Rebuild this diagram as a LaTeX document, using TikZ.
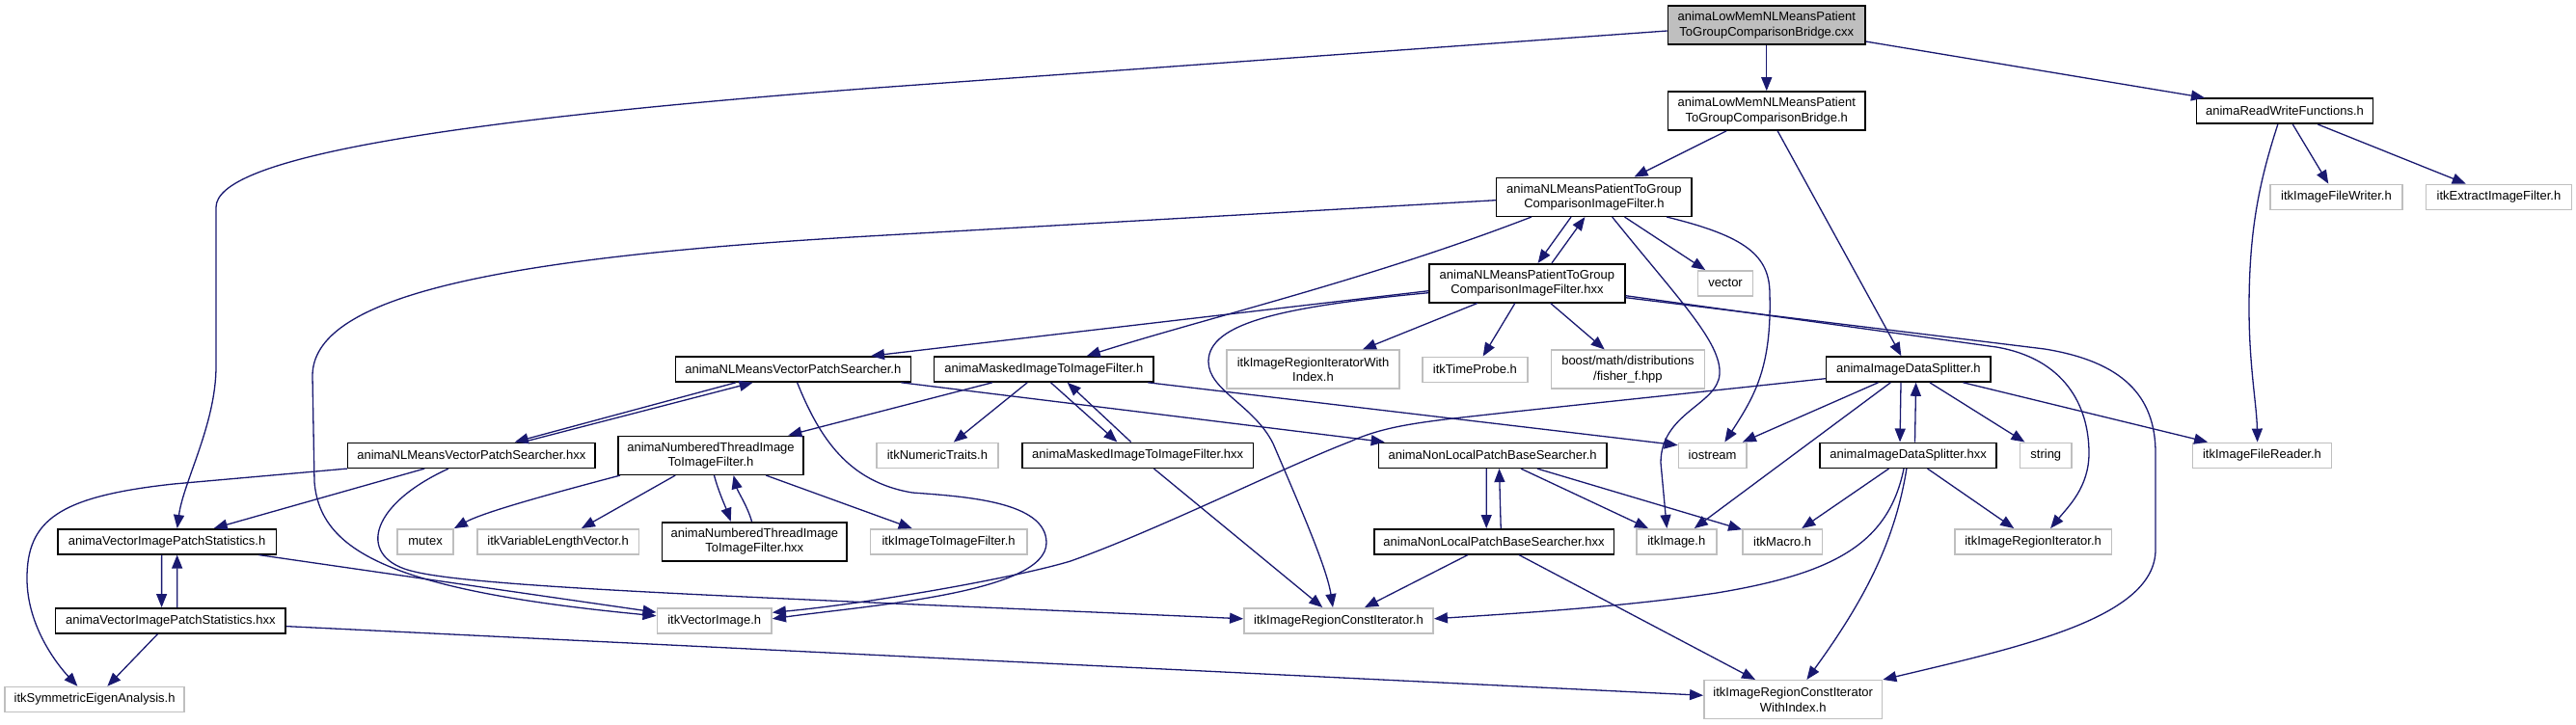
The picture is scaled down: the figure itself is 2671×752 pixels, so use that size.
\documentclass[tikz,border=0pt]{standalone}
\usepackage{fontspec}
\newfontfamily\lblfont{Liberation Sans}
\usetikzlibrary{arrows.meta}
\definecolor{edgec}{HTML}{191970}
\definecolor{extc}{HTML}{BFBFBF}
\definecolor{rootc}{HTML}{BFBFBF}
\tikzset{
  dbox/.style={draw=black, line width=1.6pt, fill=white, inner sep=0pt, align=center,
               font=\lblfont\fontsize{13}{15.3}\selectfont},
  ebox/.style={dbox, draw=extc, line width=1.5pt},
  rbox/.style={dbox, fill=rootc},
  sz/.style 2 args={minimum width=#1pt, minimum height=#2pt},
  dep/.style={draw=edgec, line width=1.3pt, -{Triangle[length=14pt,width=11pt]}},
}
\begin{document}
\begin{tikzpicture}[x=1pt,y=-1pt]
\useasboundingbox (0,0) rectangle (2671,752);
% nodes
\node[rbox, sz={204.5}{40}] (root) at (1831.75,26) {animaLowMemNLMeansPatient\\ToGroupComparisonBridge.cxx};
\node[dbox, sz={204.5}{40}] (bridge) at (1831.75,115) {animaLowMemNLMeansPatient\\ToGroupComparisonBridge.h};
\node[dbox, sz={202.6}{40}] (ptgh) at (1652.9,204.3) {animaNLMeansPatientToGroup\\ComparisonImageFilter.h};
\node[dbox, sz={202.7}{40}] (ptghxx) at (1583.4,293.7) {animaNLMeansPatientToGroup\\ComparisonImageFilter.hxx};
\node[dbox, sz={183.3}{26}] (rw) at (2369,115.2) {animaReadWriteFunctions.h};
\node[ebox, sz={137.4}{26}] (writer) at (2422.5,204.3) {itkImageFileWriter.h};
\node[ebox, sz={151.1}{26}] (extract) at (2590.9,204.3) {itkExtractImageFilter.h};
\node[ebox, sz={57.2}{26}] (vector) at (1789.1,293.8) {vector};
\node[dbox, sz={244}{26}] (vpsh) at (822.3,383) {animaNLMeansVectorPatchSearcher.h};
\node[dbox, sz={227.9}{26}] (maskh) at (1082.3,383) {animaMaskedImageToImageFilter.h};
\node[ebox, sz={179}{40}] (iterwi) at (1361.5,383.2) {itkImageRegionIteratorWith\\Index.h};
\node[ebox, sz={108.7}{26}] (timeprobe) at (1529.4,383.3) {itkTimeProbe.h};
\node[ebox, sz={159}{40}] (boost) at (1687.9,383.2) {boost/math/distributions\\/fisher\_f.hpp};
\node[dbox, sz={170.7}{26}] (dsh) at (1978.9,383) {animaImageDataSplitter.h};
\node[dbox, sz={256.5}{26}] (vpshxx) at (488.8,472.3) {animaNLMeansVectorPatchSearcher.hxx};
\node[dbox, sz={191.8}{40}] (nth) at (737,472.3) {animaNumberedThreadImage\\ToImageFilter.h};
\node[ebox, sz={126.3}{26}] (numtraits) at (971.9,472.3) {itkNumericTraits.h};
\node[dbox, sz={239.9}{26}] (maskhxx) at (1179.7,472.3) {animaMaskedImageToImageFilter.hxx};
\node[dbox, sz={236.5}{26}] (nlpbsh) at (1547.6,472.3) {animaNonLocalPatchBaseSearcher.h};
\node[ebox, sz={70.4}{26}] (iostream) at (1775.6,472.3) {iostream};
\node[dbox, sz={182.8}{26}] (dshxx) at (1978.6,472.3) {animaImageDataSplitter.hxx};
\node[ebox, sz={53.4}{26}] (string) at (2121.3,472.3) {string};
\node[ebox, sz={144.3}{26}] (reader) at (2345.5,472.3) {itkImageFileReader.h};
\node[dbox, sz={226.7}{26}] (vpsth) at (173.05,561.8) {animaVectorImagePatchStatistics.h};
\node[ebox, sz={58}{26}] (mutex) at (441.1,561.8) {mutex};
\node[ebox, sz={167.6}{26}] (varlen) at (578.6,561.8) {itkVariableLengthVector.h};
\node[dbox, sz={191.7}{40}] (nthxx) at (782.3,561.7) {animaNumberedThreadImage\\ToImageFilter.hxx};
\node[ebox, sz={162.4}{26}] (i2i) at (983.6,561.8) {itkImageToImageFilter.h};
\node[dbox, sz={248.6}{26}] (nlpbshxx) at (1549,561.8) {animaNonLocalPatchBaseSearcher.hxx};
\node[ebox, sz={83.1}{26}] (itkimage) at (1738.3,561.8) {itkImage.h};
\node[ebox, sz={82.7}{26}] (macro) at (1848.2,561.8) {itkMacro.h};
\node[ebox, sz={162.6}{26}] (regiter) at (2108.1,561.8) {itkImageRegionIterator.h};
\node[dbox, sz={238.8}{26}] (vpsthxx) at (176.8,643.8) {animaVectorImagePatchStatistics.hxx};
\node[ebox, sz={118.9}{26}] (vecimg) at (740.7,643.8) {itkVectorImage.h};
\node[ebox, sz={196.3}{26}] (constiter) at (1388,643.8) {itkImageRegionConstIterator.h};
\node[ebox, sz={185.9}{26}] (eigen) at (98.1,725.5) {itkSymmetricEigenAnalysis.h};
\node[ebox, sz={184.8}{40}] (constiterwi) at (1859.2,725.7) {itkImageRegionConstIterator\\WithIndex.h};
% root
\draw[dep] (root) -- (bridge);
\draw[dep] (root) -- (rw);
\draw[dep] ([yshift=-6pt]root.west) -- (900,91.7) .. controls (450,126) and (224,165) .. (224,215) -- (224,380) .. controls (224,440) and (190,500) .. ([xshift=10.7pt]vpsth.north);
% bridge
\draw[dep] (bridge) -- (ptgh);
\draw[dep] (bridge) -- (dsh);
% read/write
\draw[dep] (rw) -- (writer);
\draw[dep] (rw) -- (extract);
\draw[dep] ([xshift=-7.2pt]rw.south) .. controls (2342,190) and (2332,240) .. (2332,320) .. controls (2332,380) and (2340,420) .. ([xshift=-4.9pt]reader.north);
% patient-to-group filter .h
\draw[dep] ([yshift=-3.4pt]ptgh.west) -- (900,245) .. controls (500,268) and (324,310) .. (324,390) -- (326,500) .. controls (332,570) and (400,612) .. ([yshift=5pt]vecimg.west);
\draw[dep] ([xshift=-65.2pt]ptgh.south) .. controls (1420,290) and (1250,330) .. ([xshift=44.5pt]maskh.north);
\draw[dep] ([xshift=-23.9pt]ptgh.south) -- ([xshift=11.2pt]ptghxx.north);
\draw[dep] ([xshift=25.6pt]ptghxx.north) -- ([xshift=-9.5pt]ptgh.south);
\draw[dep] ([xshift=18.8pt]ptgh.south) .. controls (1740,310) and (1785,355) .. (1783,388) .. controls (1781,420) and (1722,428) .. (1722,480) -- ([xshift=-10pt]itkimage.north);
\draw[dep] (ptgh) -- (vector);
\draw[dep] ([xshift=75.4pt]ptgh.south) .. controls (1810,245) and (1835,265) .. (1835,305) .. controls (1837,380) and (1820,410) .. ([xshift=12.7pt]iostream.north);
% patient-to-group filter .hxx
\draw[dep] ([yshift=-8pt]ptghxx.west) -- ([xshift=80.7pt]vpsh.north);
\draw[dep] ([yshift=-10pt]ptghxx.west) .. controls (1330,318) and (1253,335) .. (1253,375) .. controls (1253,405) and (1300,420) .. (1320,460) .. controls (1350,530) and (1376,590) .. ([xshift=-6pt]constiter.north);
\draw[dep] (ptghxx) -- (iterwi);
\draw[dep] (ptghxx) -- (timeprobe);
\draw[dep] (ptghxx) -- (boost);
\draw[dep] ([yshift=-13pt]ptghxx.east) -- (2070,360) .. controls (2140,372) and (2166,420) .. (2166,470) .. controls (2166,505) and (2145,525) .. ([xshift=18pt]regiter.north);
\draw[dep] ([yshift=-15pt]ptghxx.east) -- (2120,362) .. controls (2200,375) and (2235,410) .. (2235,470) -- (2235,570) .. controls (2235,640) and (2100,670) .. (constiterwi.north east);
% vector patch searcher .h
\draw[dep] ([xshift=-59.3pt]vpsh.south) -- ([xshift=45pt]vpshxx.north);
\draw[dep] ([xshift=53.6pt]vpshxx.north) -- ([xshift=-41.7pt]vpsh.south);
\draw[dep] ([xshift=4.3pt]vpsh.south) .. controls (850,455) and (880,500) .. (946,511) .. controls (1000,515) and (1085,520) .. (1085,563) .. controls (1085,615) and (900,628) .. ([yshift=2pt]vecimg.east);
\draw[dep] (vpsh) -- (nlpbsh);
% masked filter .h
\draw[dep] (maskh) -- (nth);
\draw[dep] (maskh) -- (numtraits);
\draw[dep] ([xshift=7.2pt]maskh.south) -- ([xshift=-21.3pt]maskhxx.north);
\draw[dep] ([xshift=-7pt]maskhxx.north) -- ([xshift=24.4pt]maskh.south);
\draw[dep] ([xshift=108pt]maskh.south) -- ([yshift=10.6pt]iostream.west);
% vector patch searcher .hxx
\draw[dep] (vpshxx.south west) -- (180,502) .. controls (60,515) and (28,540) .. (28,600) .. controls (28,650) and (60,690) .. ([xshift=-17.7pt]eigen.north);
\draw[dep] (vpshxx) -- (vpsth);
\draw[dep] ([xshift=-23.8pt]vpshxx.south) .. controls (380,525) and (370,580) .. (430,593) .. controls (500,610) and (800,620) .. ([yshift=2pt]constiter.west);
% numbered thread filter
\draw[dep] ([xshift=-94pt]nth.south) .. controls (560,515) and (500,532) .. (mutex.north east);
\draw[dep] (nth) -- (varlen);
\draw[dep] ([xshift=3.5pt]nth.south) .. controls (745,510) and (752,525) .. ([xshift=-24.6pt]nthxx.north);
\draw[dep] ([xshift=-2.8pt]nthxx.north) .. controls (775,525) and (765,510) .. ([xshift=23.6pt]nth.south);
\draw[dep] (nth) -- (i2i);
% non local patch base searcher
\draw[dep] ([xshift=-6.4pt]nlpbsh.south) -- ([xshift=-7.8pt]nlpbshxx.north);
\draw[dep] ([xshift=7.2pt]nlpbshxx.north) -- ([xshift=6.9pt]nlpbsh.south);
\draw[dep] (nlpbsh) -- (itkimage);
\draw[dep] (nlpbsh) -- (macro);
\draw[dep] (nlpbshxx) -- (constiter);
\draw[dep] (nlpbshxx) -- (constiterwi);
\draw[dep] (maskhxx) -- (constiter);
% image data splitter
\draw[dep] ([yshift=-9.7pt]dsh.west) -- (1570,427) .. controls (1480,437) and (1440,440) .. (1400,458) .. controls (1330,485) and (1200,550) .. (1110,582) .. controls (1050,600) and (900,626) .. ([yshift=8.5pt]vecimg.east);
\draw[dep] (dsh) -- (iostream);
\draw[dep] (dsh) -- (itkimage);
\draw[dep] ([xshift=-7.9pt]dsh.south) -- ([xshift=-8.6pt]dshxx.north);
\draw[dep] ([xshift=6.9pt]dshxx.north) -- ([xshift=7.7pt]dsh.south);
\draw[dep] (dsh) -- (string);
\draw[dep] (dsh) -- (reader);
\draw[dep] (dshxx) -- (macro);
\draw[dep] (dshxx) -- (regiter);
\draw[dep] ([xshift=-4.6pt]dshxx.south) .. controls (1958,565) and (1900,595) .. (1780,615) .. controls (1680,630) and (1560,637) .. ([yshift=2pt]constiter.east);
\draw[dep] ([xshift=-1.7pt]dshxx.south) .. controls (1965,560) and (1935,620) .. ([xshift=14.2pt]constiterwi.north);
% vector image patch statistics
\draw[dep] ([xshift=-5.4pt]vpsth.south) -- ([xshift=-9.2pt]vpsthxx.north);
\draw[dep] ([xshift=6.9pt]vpsthxx.north) -- ([xshift=10.6pt]vpsth.south);
\draw[dep] (vpsth) -- (vecimg);
\draw[dep] (vpsthxx) -- (eigen);
\draw[dep] (vpsthxx) -- (constiterwi);
\end{tikzpicture}
\end{document}
